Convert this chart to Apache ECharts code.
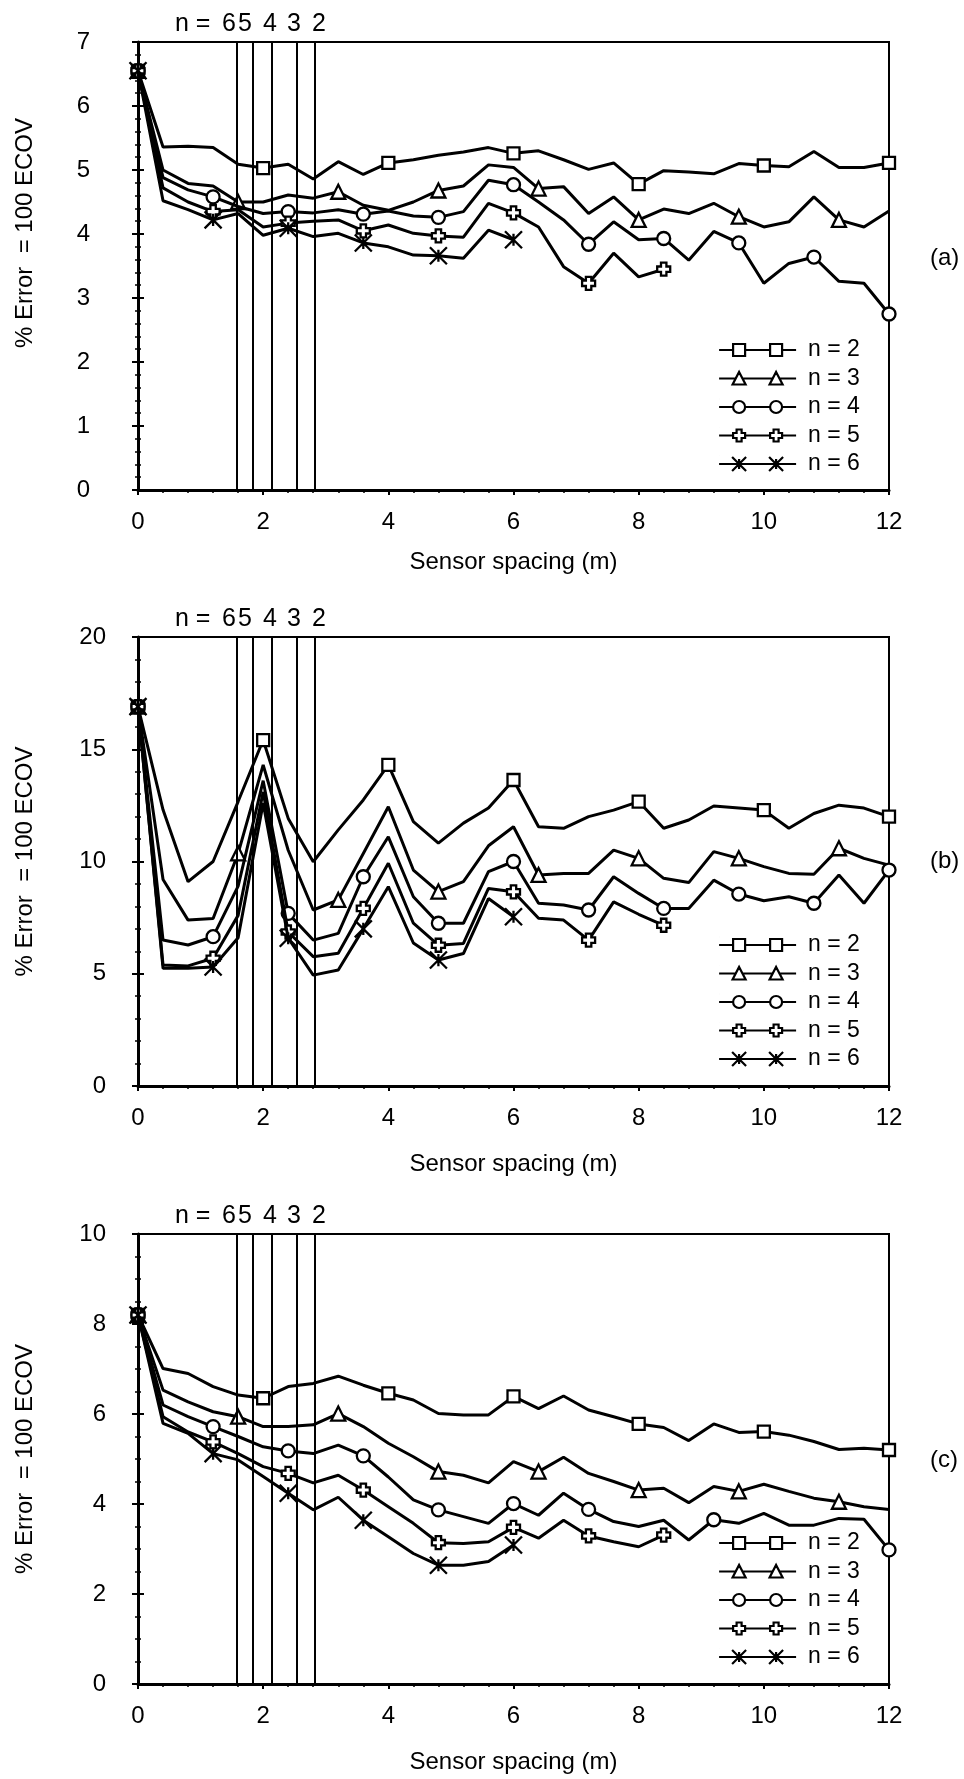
<!DOCTYPE html>
<html><head><meta charset="utf-8">
<script src="https://cdn.jsdelivr.net/npm/echarts@6/dist/echarts.min.js"></script>
<style>html,body{margin:0;padding:0;background:#fff}#chart{width:964px;height:1779px}</style>
</head><body><div id="chart"></div>
<script>
// ---------------- DATA ----------------
const spacing = [0,0.4,0.8,1.2,1.6,2,2.4,2.8,3.2,3.6,4,4.4,4.8,5.2,5.6,6,6.4,6.8,7.2,7.6,8,8.4,8.8,9.2,9.6,10,10.4,10.8,11.2,11.6,12];
const seriesNames = ['n = 2','n = 3','n = 4','n = 5','n = 6'];
const cutoffSpacing = [1.566, 1.84, 2.14, 2.54, 2.83];   // n = 6,5,4,3,2
const cutoffLabels = ['6','5','4','3','2'];
const panelLabels = ['(a)','(b)','(c)'];
const xTicks = [0,2,4,6,8,10,12];
const yMaxes = [7, 20, 10];
const yIntervals = [1, 5, 2];

// panel (a)
const a_n2 = [6.55,5.36,5.37,5.35,5.09,5.03,5.09,4.86,5.13,4.93,5.11,5.16,5.23,5.28,5.35,5.26,5.30,5.16,5.01,5.11,4.78,4.99,4.97,4.94,5.10,5.07,5.05,5.29,5.04,5.04,5.11];
const a_n3 = [6.55,5.00,4.79,4.75,4.50,4.50,4.61,4.56,4.66,4.45,4.37,4.50,4.68,4.75,5.08,5.04,4.71,4.74,4.32,4.58,4.22,4.39,4.32,4.48,4.27,4.11,4.19,4.58,4.22,4.11,4.36];
const a_n4 = [6.55,4.88,4.69,4.58,4.43,4.32,4.35,4.33,4.38,4.31,4.36,4.28,4.26,4.35,4.84,4.77,4.50,4.22,3.84,4.19,3.91,3.93,3.59,4.04,3.86,3.23,3.54,3.64,3.26,3.23,2.75];
const a_n5 = [6.55,4.72,4.50,4.35,4.38,4.11,4.17,4.20,4.22,4.05,4.14,4.01,3.97,3.95,4.48,4.33,4.11,3.49,3.23,3.70,3.33,3.45];
const a_n6 = [6.55,4.52,4.38,4.22,4.32,3.98,4.09,3.96,4.01,3.86,3.80,3.67,3.66,3.62,4.06,3.91];

// panel (b)
const b_n2 = [16.9,12.3,9.1,10.0,12.67,15.41,11.92,9.99,11.41,12.74,14.3,11.78,10.82,11.71,12.38,13.63,11.55,11.48,12.0,12.29,12.67,11.48,11.85,12.47,12.38,12.29,11.48,12.14,12.51,12.38,12.0];
const b_n3 = [16.9,9.2,7.39,7.46,10.36,14.3,10.5,7.84,8.29,10.36,12.44,9.62,8.66,9.1,10.7,11.55,9.4,9.47,9.47,10.51,10.14,9.25,9.06,10.44,10.14,9.77,9.47,9.43,10.59,10.14,9.84];
const b_n4 = [16.9,6.5,6.28,6.65,8.9,13.6,7.69,6.5,6.8,9.32,11.1,8.43,7.25,7.25,9.55,10.0,8.14,8.06,7.84,9.32,8.58,7.91,7.91,9.17,8.55,8.25,8.43,8.14,9.4,8.14,9.62];
const b_n5 = [16.9,5.39,5.35,5.69,7.6,13.1,6.86,5.76,5.91,7.91,9.92,7.25,6.27,6.35,8.8,8.65,7.47,7.39,6.5,8.2,7.65,7.16];
const b_n6 = [16.9,5.24,5.24,5.3,6.6,12.6,6.58,4.94,5.17,7.0,8.88,6.37,5.61,5.9,8.35,7.54];

// panel (c)
const c_n2 = [8.2,7.01,6.9,6.61,6.42,6.35,6.61,6.68,6.84,6.64,6.46,6.31,6.01,5.98,5.98,6.39,6.12,6.4,6.09,5.94,5.78,5.70,5.41,5.78,5.59,5.61,5.53,5.39,5.21,5.24,5.2];
const c_n3 = [8.2,6.53,6.27,6.05,5.94,5.72,5.72,5.76,6.01,5.72,5.35,5.05,4.72,4.64,4.47,4.94,4.72,5.04,4.68,4.50,4.31,4.35,4.03,4.39,4.28,4.44,4.28,4.13,4.05,3.94,3.88];
const c_n4 = [8.2,6.2,5.94,5.72,5.5,5.27,5.18,5.12,5.31,5.07,4.6,4.09,3.87,3.72,3.57,4.01,3.75,4.24,3.88,3.61,3.5,3.64,3.2,3.65,3.57,3.79,3.53,3.53,3.68,3.66,2.98];
const c_n5 = [8.2,5.94,5.6,5.38,5.12,4.83,4.68,4.47,4.64,4.31,3.94,3.57,3.14,3.12,3.16,3.48,3.24,3.64,3.29,3.16,3.05,3.31];
const c_n6 = [8.2,5.79,5.57,5.12,4.98,4.61,4.24,3.87,4.15,3.64,3.27,2.9,2.64,2.64,2.72,3.09];

// ---------------- STYLE / LAYOUT ----------------
const FONT = '"Liberation Sans", Arial, Helvetica, sans-serif';
const panels = [[a_n2,a_n3,a_n4,a_n5,a_n6],[b_n2,b_n3,b_n4,b_n5,b_n6],[c_n2,c_n3,c_n4,c_n5,c_n6]];
const gridTops = [42, 637, 1234];
const gridHeights = [448, 449, 450];
const yLabelMargins = [48, 32, 32];
const yMinorSplit = [5, 5, 4];
const xNameGaps = [60, 66, 66];
const yNamePad = [[0,0,0,66],[0,0,0,0],[0,0,0,0]];
const legendTops = [338, 933, 1531];
const panelLabelY = [258, 861, 1460];

const markerStep = [5, 4, 3, 3, 3];
const markerOverride = {'2-2': [0,3,6,9,12,15,18,23,30]};

const shapes = [
  {symbol: 'rect', size: 12},
  {symbol: 'triangle', size: 14},
  {symbol: 'circle', size: 13},
  {symbol: 'path://M3.5,0H8.5V3.5H12V8.5H8.5V12H3.5V8.5H0V3.5H3.5Z', size: 13},
  {symbol: 'path://M0,0L14,14M14,0L0,14M7,2L7,12', size: 17}
];

function legendIcon(kind) {
  const anchors = 'M0,0L0.01,0M84,16L84.01,16';
  const c = [20, 57];
  let p = anchors;
  if (kind === 0) {
    p += 'M0,8H14M26,8H51M63,8H77';
    c.forEach(x => { p += `M${x-6},2H${x+6}V14H${x-6}Z`; });
  } else if (kind === 1) {
    p += `M0,8H${c[0]-3.4}M${c[0]+3.4},8H${c[1]-3.4}M${c[1]+3.4},8H77`;
    c.forEach(x => { p += `M${x},1.5L${x+6.5},14L${x-6.5},14Z`; });
  } else if (kind === 2) {
    p += 'M0,8H14M26,8H51M63,8H77';
    c.forEach(x => { p += `M${x+6},8A6,6,0,1,1,${x-6},8A6,6,0,1,1,${x+6},8Z`; });
  } else if (kind === 3) {
    p += 'M0,8H14M26,8H51M63,8H77';
    c.forEach(x => { p += `M${x-2.5},2H${x+2.5}V5.5H${x+6}V10.5H${x+2.5}V14H${x-2.5}V10.5H${x-6}V5.5H${x-2.5}Z`; });
  } else {
    p += 'M0,8H77';
    c.forEach(x => { p += `M${x-7},1L${x+7},15M${x+7},1L${x-7},15M${x},3L${x},13`; });
  }
  return 'path://' + p;
}

const grid = [], xAxis = [], yAxis = [], series = [], legend = [], graphic = [];
const axisFont = {fontSize: 24, fontFamily: FONT, color: '#000'};

panels.forEach((vals, i) => {
  grid.push({left: 138, width: 751, top: gridTops[i], height: gridHeights[i],
    show: true, borderColor: '#000', borderWidth: 2, backgroundColor: 'transparent', outerBoundsMode: 'none'});
  xAxis.push({
    type: 'value', gridIndex: i, min: 0, max: 12, interval: 2,
    name: 'Sensor spacing (m)', nameLocation: 'middle', nameGap: xNameGaps[i], nameMoveOverlap: false,
    nameTextStyle: axisFont,
    axisLine: {show: true, onZero: false, lineStyle: {color: '#000', width: 3}},
    axisTick: {show: true, length: 5, lineStyle: {color: '#000', width: 2}},
    minorTick: {show: true, splitNumber: 5, length: 3, lineStyle: {color: '#000', width: 1.5}},
    axisLabel: Object.assign({margin: 20, customValues: xTicks}, axisFont),
    splitLine: {show: false}, minorSplitLine: {show: false}
  });
  yAxis.push({
    type: 'value', gridIndex: i, min: 0, max: yMaxes[i], interval: yIntervals[i],
    name: '% Error  = 100 ECOV', nameLocation: 'middle', nameGap: 101, nameMoveOverlap: false,
    nameTextStyle: Object.assign({padding: yNamePad[i]}, axisFont),
    axisLine: {show: true, onZero: false, lineStyle: {color: '#000', width: 3}},
    axisTick: {show: true, length: 6, lineStyle: {color: '#000', width: 2}},
    minorTick: {show: true, splitNumber: yMinorSplit[i], length: 3, lineStyle: {color: '#000', width: 1.5}},
    axisLabel: Object.assign({margin: yLabelMargins[i]}, axisFont),
    splitLine: {show: false}, minorSplitLine: {show: false}
  });

  vals.forEach((arr, j) => {
    const key = i + '-' + j;
    let marks = markerOverride[key];
    if (!marks) { marks = []; for (let k = 0; k < arr.length; k += markerStep[j]) marks.push(k); }
    const shape = shapes[j].symbol;
    const s = {
      type: 'line', name: seriesNames[j], xAxisIndex: i, yAxisIndex: i,
      data: arr.map((v, k) => [spacing[k], v]),
      symbol: (val, params) => marks.indexOf(params.dataIndex) >= 0 ? shape : 'none',
      symbolSize: shapes[j].size,
      showSymbol: true, showAllSymbol: true,
      lineStyle: {color: '#000', width: 3},
      itemStyle: {color: '#fff', borderColor: '#000', borderWidth: 2.3},
      emphasis: {disabled: true},
      silent: true,
      z: 3 + j
    };
    if (j === 0) {
      s.markLine = {
        silent: true, symbol: ['none', 'none'], label: {show: false},
        lineStyle: {color: '#000', width: 2, type: 'solid'},
        emphasis: {disabled: true},
        data: cutoffSpacing.map(v => ({xAxis: v}))
      };
    }
    series.push(s);
  });

  legend.push({
    orient: 'vertical', left: 718, top: legendTops[i], padding: 0, itemGap: 4.5,
    itemWidth: 84, itemHeight: 16, selectedMode: false,
    itemStyle: {color: '#fff', borderColor: '#000', borderWidth: 2.2},
    textStyle: {fontSize: 23, fontFamily: FONT, color: '#000', lineHeight: 24},
    data: seriesNames.map((n, j) => ({name: n, icon: legendIcon(j)}))
  });

  const nTop = gridTops[i] - 30;
  const tokens = [['n =', 175], [cutoffLabels[0], 222], [cutoffLabels[1], 238], [cutoffLabels[2], 263], [cutoffLabels[3], 287], [cutoffLabels[4], 312]];
  tokens.forEach(t => graphic.push({type: 'text', left: t[1], top: nTop,
    style: {text: t[0], fontSize: 25, fontFamily: FONT, fill: '#000'}}));
  graphic.push({type: 'text', left: 930, top: panelLabelY[i] - 12,
    style: {text: panelLabels[i], fontSize: 24, fontFamily: FONT, fill: '#000'}});
});

// inward tick marks so the y-axis ticks cross the axis line as in the original
panels.forEach((vals, i) => {
  yAxis.push({
    type: 'value', gridIndex: i, min: 0, max: yMaxes[i], interval: yIntervals[i], position: 'left',
    axisLine: {show: false}, axisLabel: {show: false}, splitLine: {show: false},
    axisTick: {show: true, inside: true, length: 6, lineStyle: {color: '#000', width: 2}},
    minorTick: {show: true, splitNumber: yMinorSplit[i], length: 3, lineStyle: {color: '#000', width: 1.5}}
  });
});

const chart = echarts.init(document.getElementById('chart'), null, {renderer: 'canvas'});
chart.setOption({
  animation: false,
  backgroundColor: '#fff',
  grid, xAxis, yAxis, series, legend, graphic
});
</script>
</body></html>
